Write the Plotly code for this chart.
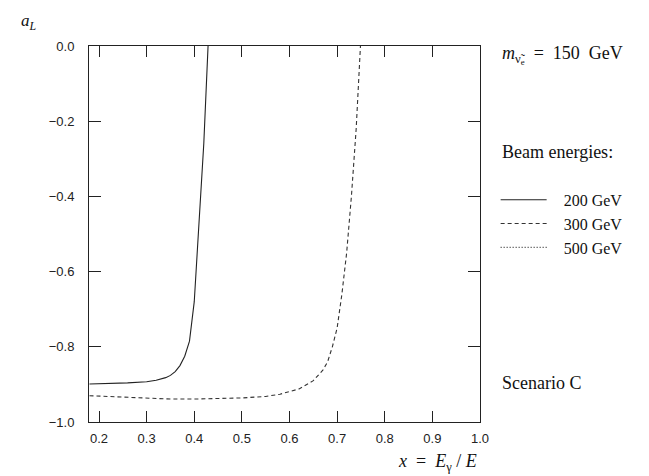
import plotly.graph_objects as go

# 200 GeV beam energy (solid)
x200 = [0.18, 0.22, 0.26, 0.30, 0.32, 0.34, 0.35, 0.36, 0.37, 0.38, 0.39, 0.40, 0.41, 0.42, 0.429]
y200 = [-0.899, -0.898, -0.896, -0.893, -0.889, -0.882, -0.876, -0.866, -0.85, -0.825, -0.785, -0.68, -0.484, -0.26, 0.0]

# 300 GeV beam energy (dashed)
x300 = [0.18, 0.25, 0.30, 0.35, 0.40, 0.45, 0.50, 0.55, 0.58, 0.62, 0.65, 0.67, 0.68, 0.69, 0.70, 0.71, 0.72, 0.73, 0.74, 0.749]
y300 = [-0.930, -0.933, -0.936, -0.939, -0.939, -0.938, -0.936, -0.932, -0.926, -0.912, -0.89, -0.862, -0.84, -0.80, -0.75, -0.66, -0.55, -0.40, -0.22, 0.0]

# 500 GeV beam energy (dotted) - only a single speck is visible in range
x500 = [0.749]
y500 = [-0.938]

xticks = [0.2, 0.3, 0.4, 0.5, 0.6, 0.7, 0.8, 0.9, 1.0]
xticklabels = ["0.2", "0.3", "0.4", "0.5", "0.6", "0.7", "0.8", "0.9", "1.0"]
yticks = [0.0, -0.2, -0.4, -0.6, -0.8, -1.0]
yticklabels = ["0.0", "\u22120.2", "\u22120.4", "\u22120.6", "\u22120.8", "\u22121.0"]

serif = "Liberation Serif"
sans = "Liberation Sans"
NB = "\u00a0"

fig = go.Figure()
fig.add_trace(go.Scatter(x=x200, y=y200, mode="lines", name=NB * 3 + "200" + NB + "GeV",
                         line=dict(color="#222222", width=1.1, dash="solid")))
fig.add_trace(go.Scatter(x=x300, y=y300, mode="lines", name=NB * 3 + "300" + NB + "GeV",
                         line=dict(color="#333333", width=1.1, dash="4px,3px")))
fig.add_trace(go.Scatter(x=x500, y=y500, mode="lines", name=NB * 3 + "500" + NB + "GeV",
                         line=dict(color="#333333", width=1.2, dash="1px,2px")))

fig.update_layout(
    width=649, height=476,
    margin=dict(l=81, r=177, t=38, b=62),
    paper_bgcolor="white", plot_bgcolor="white",
    showlegend=True,
    legend=dict(x=1.04, y=0.636, xanchor="left", yanchor="top",
                font=dict(family=serif, size=16, color="#111"),
                bgcolor="rgba(0,0,0,0)", itemwidth=46, tracegroupgap=0),
    xaxis=dict(range=[0.179, 1.0], tickvals=xticks, ticktext=xticklabels,
               ticks="inside", ticklen=11, tickwidth=1, tickcolor="#222",
               showline=True, linecolor="#222", linewidth=1, mirror="ticks",
               showgrid=False, zeroline=False, ticklabelstandoff=4,
               tickfont=dict(family=sans, size=13, color="#222")),
    yaxis=dict(range=[-1.0, 0.0], tickvals=yticks, ticktext=yticklabels,
               ticks="inside", ticklen=12, tickwidth=1, tickcolor="#222",
               showline=True, linecolor="#222", linewidth=1, mirror="ticks",
               showgrid=False, zeroline=False, ticklabelstandoff=11,
               tickfont=dict(family=sans, size=13, color="#222")),
    annotations=[
        dict(text="<i>a</i><sub><i>L</i></sub>", xref="paper", yref="paper",
             x=-0.178, y=1.065, xanchor="left", yanchor="middle", showarrow=False,
             font=dict(family=serif, size=17, color="#111")),
        dict(text="<i>x</i>" + NB * 2 + "=" + NB * 2 + "<i>E</i><sub>\u03b3</sub>" + NB + "/" + NB + "<i>E</i>",
             xref="paper", yref="paper",
             x=0.997, y=-0.108, xanchor="right", yanchor="middle", showarrow=False,
             font=dict(family=serif, size=18, color="#111")),
        dict(text="<i>m</i><sub>\u03bd\u0303<sub>e</sub></sub>" + NB * 2 + "=" + NB * 2 + "150" + NB * 2 + "GeV",
             xref="paper", yref="paper",
             x=1.05, y=0.975, xanchor="left", yanchor="middle", showarrow=False,
             font=dict(family=serif, size=18, color="#111")),
        dict(text="Beam energies:", xref="paper", yref="paper",
             x=1.05, y=0.718, xanchor="left", yanchor="middle", showarrow=False,
             font=dict(family=serif, size=18, color="#111")),
        dict(text="Scenario C", xref="paper", yref="paper",
             x=1.05, y=0.103, xanchor="left", yanchor="middle", showarrow=False,
             font=dict(family=serif, size=18, color="#111")),
    ],
)

fig.write_html("out.html")
